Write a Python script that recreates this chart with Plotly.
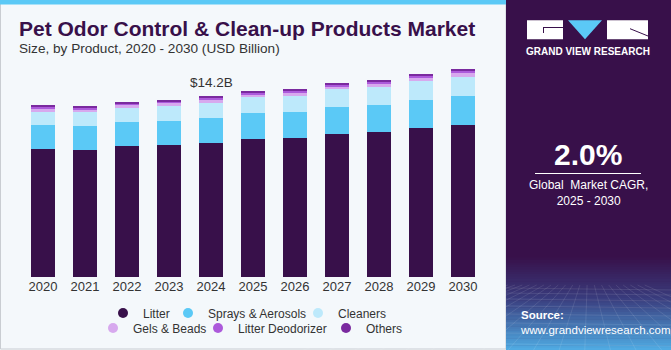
import plotly.graph_objects as go

years = ["2020", "2021", "2022", "2023", "2024", "2025", "2026", "2027", "2028", "2029", "2030"]
litter = [10.10, 10.02, 10.31, 10.39, 10.55, 10.87, 10.94, 11.28, 11.42, 11.76, 11.99]
sprays = [1.87, 1.87, 1.91, 1.91, 1.99, 2.02, 2.07, 2.13, 2.13, 2.20, 2.28]
cleaners = [1.05, 1.08, 1.10, 1.18, 1.18, 1.26, 1.26, 1.37, 1.39, 1.50, 1.50]
gels = [0.20, 0.19, 0.20, 0.19, 0.21, 0.22, 0.22, 0.22, 0.23, 0.24, 0.27]
deodorizer = [0.17, 0.16, 0.17, 0.16, 0.18, 0.19, 0.19, 0.19, 0.20, 0.20, 0.22]
others = [0.08, 0.07, 0.08, 0.07, 0.08, 0.09, 0.09, 0.09, 0.09, 0.09, 0.12]

series_names = ["Litter", "Sprays & Aerosols", "Cleaners", "Gels & Beads", "Litter Deodorizer", "Others"]
series_values = [litter, sprays, cleaners, gels, deodorizer, others]
series_colors = ["#38104A", "#5BC9F6", "#BDE9FB", "#D7A9EE", "#AC5ADB", "#7A2A9F"]
highlight_year = "2024"
highlight_label = "&#36;14.2B"
cagr_text = "2.0%"

W, H = 671, 350
L, R, T, B = 22, 187, 61, 73
PW, PH = W - L - R, H - T - B


def px2x(px):
    return (px - L) / PW


def px2y(py):
    return (H - B - py) / PH


# legend item placement (circle centre x, row centre y) in pixels
legend_pos = [(128, 313), (193, 313), (323, 313), (118, 328), (223, 328), (351, 328)]

fig = go.Figure()
for name, vals, color in zip(series_names, series_values, series_colors):
    fig.add_trace(go.Bar(x=years, y=vals, name=name, marker=dict(color=color, line=dict(width=0)),
                         showlegend=False, hoverinfo="x+y+name"))
legend_layout = {}
for i, (name, color) in enumerate(zip(series_names, series_colors)):
    key = "legend" if i == 0 else "legend%d" % (i + 1)
    fig.add_trace(go.Scatter(x=[years[0]], y=[None], mode="markers", name=name,
                             marker=dict(color=color, size=10, symbol="circle"),
                             legend=key, showlegend=True, hoverinfo="skip"))
    cx, cy = legend_pos[i]
    legend_layout[key] = dict(orientation="h", x=px2x(cx - 25), xanchor="left", y=px2y(cy), yanchor="middle",
                              bgcolor="rgba(0,0,0,0)", font=dict(size=12, color="#333333"), itemwidth=30,
                              tracegroupgap=0, traceorder="normal")

totals = [sum(v) for v in zip(*series_values)]
hi = years.index(highlight_year)

shapes = []
shapes.append(dict(type="rect", xref="paper", yref="paper", x0=px2x(0.5), x1=px2x(506), y0=px2y(349), y1=px2y(0.5),
                   line=dict(color="#C9CDD2", width=1), fillcolor="rgba(0,0,0,0)", layer="below"))
shapes.append(dict(type="rect", xref="paper", yref="paper", x0=px2x(0), x1=px2x(506), y0=px2y(4.5), y1=px2y(0),
                   line=dict(width=0), fillcolor="#5BC9F6", layer="above"))
shapes.append(dict(type="rect", xref="paper", yref="paper", x0=px2x(506), x1=px2x(671), y0=px2y(350), y1=px2y(0),
                   line=dict(width=0), fillcolor="#38104A", layer="above"))
n = 40
top_g, bot_g = 255, 350
c0 = (56, 16, 74)
c_mid = (58, 60, 125)
c1 = (80, 170, 226)
for i in range(n):
    t = i / (n - 1)
    if t < 0.45:
        u = t / 0.45
        c = tuple(int(c0[k] + (c_mid[k] - c0[k]) * u) for k in range(3))
    else:
        u = (t - 0.45) / 0.55
        c = tuple(int(c_mid[k] + (c1[k] - c_mid[k]) * u) for k in range(3))
    ya = top_g + (bot_g - top_g) * i / n
    yb = top_g + (bot_g - top_g) * (i + 1) / n + 0.5
    shapes.append(dict(type="rect", xref="paper", yref="paper", x0=px2x(506), x1=px2x(671),
                       y0=px2y(yb), y1=px2y(ya), line=dict(width=0),
                       fillcolor="rgb(%d,%d,%d)" % c, layer="above"))
for k in range(-6, 14):
    xa = 506 + k * 16
    shapes.append(dict(type="line", xref="paper", yref="paper", x0=px2x(588 + (xa - 588) * 0.45), y0=px2y(285),
                       x1=px2x(588 + (xa - 588) * 1.6), y1=px2y(350),
                       line=dict(color="rgba(255,255,255,0.10)", width=1), layer="above"))
for yy in [288, 293, 299, 306, 314, 323, 333, 344]:
    shapes.append(dict(type="line", xref="paper", yref="paper", x0=px2x(506), y0=px2y(yy),
                       x1=px2x(671), y1=px2y(yy + 2),
                       line=dict(color="rgba(255,255,255,0.10)", width=1), layer="above"))
# logo
shapes.append(dict(type="rect", xref="paper", yref="paper", x0=px2x(527), x1=px2x(563), y0=px2y(39.3), y1=px2y(20.3),
                   line=dict(width=0), fillcolor="white", layer="above"))
shapes.append(dict(type="line", xref="paper", yref="paper", x0=px2x(543), x1=px2x(563), y0=px2y(27.5), y1=px2y(27.5),
                   line=dict(color="#38104A", width=1), layer="above"))
shapes.append(dict(type="line", xref="paper", yref="paper", x0=px2x(543.5), x1=px2x(543.5), y0=px2y(27.5), y1=px2y(33),
                   line=dict(color="#38104A", width=1), layer="above"))
shapes.append(dict(type="path", xref="paper", yref="paper",
                   path="M %f,%f L %f,%f L %f,%f Z" % (px2x(568), px2y(20.3), px2x(602), px2y(20.3), px2x(585), px2y(39.3)),
                   line=dict(width=0), fillcolor="#5BC9F6", layer="above"))
shapes.append(dict(type="rect", xref="paper", yref="paper", x0=px2x(607), x1=px2x(648), y0=px2y(39.3), y1=px2y(20.3),
                   line=dict(width=0), fillcolor="white", layer="above"))
shapes.append(dict(type="line", xref="paper", yref="paper", x0=px2x(630), x1=px2x(648), y0=px2y(28.7), y1=px2y(36),
                   line=dict(color="#38104A", width=1), layer="above"))
shapes.append(dict(type="line", xref="paper", yref="paper", x0=px2x(535), x1=px2x(641), y0=px2y(173.5), y1=px2y(173.5),
                   line=dict(color="white", width=1), layer="above"))

font_fam = "Liberation Sans, Arial, sans-serif"
annotations = [
    dict(text="<b>Pet Odor Control & Clean-up Products Market</b>", xref="paper", yref="paper",
         x=px2x(17), y=px2y(28), xanchor="left", yanchor="middle", showarrow=False,
         font=dict(family=font_fam, size=21, color="#38104A")),
    dict(text="Size, by Product, 2020 - 2030 (USD Billion)", xref="paper", yref="paper",
         x=px2x(17), y=px2y(49), xanchor="left", yanchor="middle", showarrow=False,
         font=dict(family=font_fam, size=13.6, color="#333333")),
    dict(text=highlight_label, xref="x", yref="y", x=hi, y=totals[hi], yshift=14,
         xanchor="center", yanchor="middle", showarrow=False,
         font=dict(family=font_fam, size=13.5, color="#333333")),
    dict(text="<b>GRAND VIEW RESEARCH</b>", xref="paper", yref="paper", x=px2x(588), y=px2y(51.5),
         xanchor="center", yanchor="middle", showarrow=False,
         font=dict(family=font_fam, size=10, color="white")),
    dict(text="<b>" + cagr_text + "</b>", xref="paper", yref="paper", x=px2x(588), y=px2y(154),
         xanchor="center", yanchor="middle", showarrow=False,
         font=dict(family=font_fam, size=30, color="white")),
    dict(text="Global  Market CAGR,<br>2025 - 2030", xref="paper", yref="paper", x=px2x(588), y=px2y(193),
         xanchor="center", yanchor="middle", showarrow=False,
         font=dict(family=font_fam, size=12, color="white")),
    dict(text="<b>Source:</b><br>www.grandviewresearch.com", xref="paper", yref="paper", x=px2x(518), y=px2y(322),
         xanchor="left", yanchor="middle", align="left", showarrow=False,
         font=dict(family=font_fam, size=11.5, color="white")),
]

fig.update_layout(
    width=W, height=H, barmode="stack", bargap=0.45,
    margin=dict(l=L, r=R, t=T, b=B, pad=0, autoexpand=False),
    paper_bgcolor="#F4F8FB", plot_bgcolor="#F4F8FB",
    font=dict(family=font_fam, color="#333333"),
    xaxis=dict(type="category", range=[-0.5, 10.5], showgrid=False, showline=False, zeroline=False,
               ticks="", tickfont=dict(size=13, color="#333333"), fixedrange=True, automargin=False),
    yaxis=dict(range=[0, PH / 12.7], visible=False, showgrid=False, zeroline=False, fixedrange=True,
               automargin=False),
    shapes=shapes, annotations=annotations, showlegend=True,
    **legend_layout,
)

fig.write_html("out.html")
